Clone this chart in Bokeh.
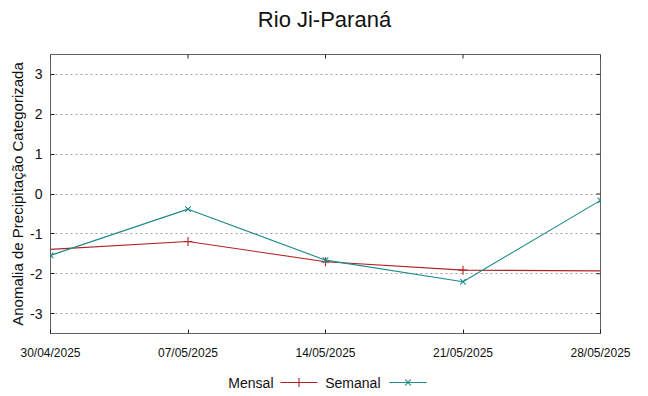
from datetime import datetime
import math
from bokeh.plotting import figure
from bokeh.models import Range1d, FixedTicker, DatetimeTickFormatter
from bokeh.layouts import column
from bokeh.core.properties import value
from bokeh.embed import file_html
from bokeh.resources import INLINE

# ---- data ----
title_text = "Rio Ji-Paraná"
y_label = "Anomalia de Precipitação Categorizada"
dates = ["30/04/2025", "07/05/2025", "14/05/2025", "21/05/2025", "28/05/2025"]
mensal = [-1.39, -1.19, -1.70, -1.91, -1.93]
mensal_marker_idx = [1, 2, 3]
semanal = [-1.54, -0.38, -1.66, -2.20, -0.16]
y_ticks = [-3, -2, -1, 0, 1, 2, 3]
series_names = ["Mensal", "Semanal"]

RED = "#b22222"
TEAL = "#1f8a8a"
FONT = "Liberation Sans"
TXT = "#111111"
Y0, Y1 = -3.5, 3.5
BL, BR = 50, 32   # left / right borders
W = 632
TH, MH, LH = 38, 324, 30   # title strip, main plot, legend strip heights


def strip(h):
    s = figure(width=W, height=h, output_backend="svg", toolbar_location=None,
               x_range=Range1d(BL, W - BR), y_range=Range1d(0, h),
               min_border_left=BL, min_border_right=BR,
               min_border_top=0, min_border_bottom=0)
    s.axis.visible = False
    s.grid.visible = False
    s.outline_line_color = None
    return s


# ---- title strip ----
tp = strip(TH)
tp.text([324], [TH - 19], text=[title_text], text_align="center",
        text_baseline="middle", text_font=value(FONT), text_font_size="22px",
        text_color=TXT)

# ---- main plot ----
x = [datetime.strptime(d, "%d/%m/%Y") for d in dates]
tick_ms = [dt.timestamp() * 1000 for dt in x]

p = figure(width=W, height=MH, output_backend="svg", toolbar_location=None,
           x_axis_type="datetime",
           x_range=Range1d(x[0], x[-1]), y_range=Range1d(Y0, Y1),
           min_border_left=BL, min_border_right=BR, min_border_top=16,
           min_border_bottom=27)
p.outline_line_color = "#606060"
p.outline_line_width = 1

p.xgrid.visible = False
p.ygrid.ticker = FixedTicker(ticks=y_ticks)
p.ygrid.grid_line_color = "#a0a0a0"
p.ygrid.grid_line_dash = "2 3"
p.ygrid.grid_line_width = 1

xa = p.xaxis[0]
xa.ticker = FixedTicker(ticks=tick_ms)
xa.formatter = DatetimeTickFormatter(days="%d/%m/%Y", months="%d/%m/%Y", hours="%d/%m/%Y")
xa.major_label_text_font = FONT
xa.major_label_text_font_size = "12px"
xa.major_label_text_color = TXT
xa.major_label_standoff = 12
xa.axis_line_color = None
xa.major_tick_in = 4
xa.major_tick_out = 0
xa.minor_tick_line_color = None
xa.major_tick_line_color = "#222222"

ya = p.yaxis[0]
ya.ticker = FixedTicker(ticks=y_ticks)
ya.major_label_overrides = {t: str(t) for t in y_ticks}
ya.major_label_text_font = FONT
ya.major_label_text_font_size = "14px"
ya.major_label_text_color = TXT
ya.major_label_standoff = 8
ya.axis_label = y_label
ya.axis_label_text_font = FONT
ya.axis_label_text_font_size = "15px"
ya.axis_label_text_font_style = "normal"
ya.axis_label_text_color = TXT
ya.axis_label_standoff = 1
ya.axis_line_color = None
ya.major_tick_in = 4
ya.major_tick_out = 0
ya.minor_tick_line_color = None
ya.major_tick_line_color = "#222222"

# mirrored ticks on right and top edges (half of a dash marker lies inside the frame)
p.scatter([x[-1]] * len(y_ticks), y_ticks, marker="dash", size=8,
          line_color="#222222", line_width=1)
p.scatter(x, [Y1] * len(x), marker="dash", size=8, angle=math.pi / 2,
          line_color="#222222", line_width=1)

p.line(x, mensal, line_color=RED, line_width=1.1)
p.scatter([x[i] for i in mensal_marker_idx], [mensal[i] for i in mensal_marker_idx],
          marker="cross", size=9, line_color=RED, line_width=1.1)
p.line(x, semanal, line_color=TEAL, line_width=1.1)
p.scatter(x, semanal, marker="x", size=8, line_color=TEAL, line_width=1.1)

# ---- legend strip (gnuplot style: label, then sample); x in page pixels ----
lg = strip(LH)
label_right = [273, 380]
sample_x0 = [280, 389]
sample_x1 = [317, 426]
colors = [RED, TEAL]
markers = ["cross", "x"]
ly = LH - 20
lg.text(label_right, [ly, ly], text=series_names, text_align="right",
        text_baseline="middle", text_font=value(FONT), text_font_size="14px",
        text_color=TXT)
for i in range(2):
    lg.line([sample_x0[i], sample_x1[i]], [ly, ly], line_color=colors[i], line_width=1.1)
    lg.scatter([(sample_x0[i] + sample_x1[i]) / 2], [ly], marker=markers[i],
               size=9 if i == 0 else 8, line_color=colors[i], line_width=1.1)

layout = column(tp, p, lg, spacing=0)
open("out.html", "w").write(file_html(layout, INLINE))
